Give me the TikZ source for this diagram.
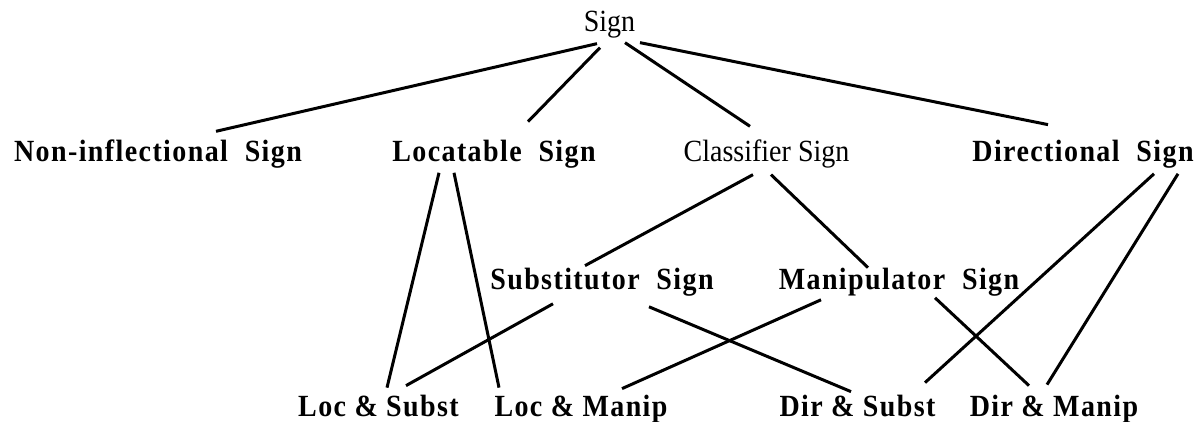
\documentclass[tikz,border=0pt]{standalone}
\usepackage{fontspec}
\usepackage{graphicx}
\setmainfont{Liberation Serif}
\newfontfamily\spacedbf[LetterSpace=5]{Liberation Serif}
\newcommand{\tall}[1]{\scalebox{1}[1.1]{#1}}
\usepackage{tikz}
\usetikzlibrary{positioning}

\begin{document}
\begin{tikzpicture}[x=1pt, y=1pt,
  cat/.style={inner sep=0pt, outer sep=0pt, anchor=base, font=\fontsize{28}{34}\selectfont},
  bcat/.style={cat, font=\fontsize{28}{34}\spacedbf\bfseries},
  edge/.style={line width=3pt}]
\useasboundingbox (0,0) rectangle (1199,421);
\node[cat] (sign) at (609.5,389) {\tall{Sign}};
\node[bcat] (non) at (158,259) {\tall{Non-inflectional~~Sign}};
\node[bcat] (loc) at (494,259) {\tall{Locatable~~Sign}};
\node[cat] (cls) at (766.5,259) {\tall{Classifier Sign}};
\node[bcat] (dir) at (1083,259) {\tall{Directional~~Sign}};
\node[bcat] (sub) at (602,132) {\tall{Substitutor~~Sign}};
\node[bcat] (man) at (899,132) {\tall{Manipulator~~Sign}};
\node[bcat] (ls) at (378.5,5) {\tall{Loc \& Subst}};
\node[bcat] (lm) at (581,5) {\tall{Loc \& Manip}};
\node[bcat] (ds) at (857.5,5) {\tall{Dir \& Subst}};
\node[bcat] (dm) at (1054,5) {\tall{Dir \& Manip}};
\draw[edge] ([xshift=-12.5pt,yshift=-5pt]sign.south) -- ([xshift=58pt,yshift=9pt]non.north);
\draw[edge] ([xshift=-9.5pt,yshift=-9pt]sign.south) -- ([xshift=34pt,yshift=19pt]loc.north);
\draw[edge] ([xshift=15.5pt,yshift=-4pt]sign.south) -- ([xshift=-16.5pt,yshift=14pt]cls.north);
\draw[edge] ([xshift=30.5pt,yshift=-4pt]sign.south) -- ([xshift=-35pt,yshift=16pt]dir.north);
\draw[edge] ([xshift=-13.5pt,yshift=-6pt]cls.south) -- ([xshift=-17pt,yshift=2pt]sub.north);
\draw[edge] ([xshift=4.5pt,yshift=-6pt]cls.south) -- ([xshift=-31pt,yshift=0pt]man.north);
\draw[edge] ([xshift=71pt,yshift=-5pt]dir.south) -- ([xshift=67.5pt,yshift=12pt]ds.north);
\draw[edge] ([xshift=95pt,yshift=-5pt]dir.south) -- ([xshift=-7pt,yshift=10pt]dm.north);
\draw[edge] ([xshift=-55pt,yshift=-4pt]loc.south) -- ([xshift=8.5pt,yshift=7pt]ls.north);
\draw[edge] ([xshift=-40pt,yshift=-4pt]loc.south) -- ([xshift=-82pt,yshift=7pt]lm.north);
\draw[edge] ([xshift=-49pt,yshift=-8pt]sub.south) -- ([xshift=27.5pt,yshift=9pt]ls.north);
\draw[edge] ([xshift=47pt,yshift=-11pt]sub.south) -- ([xshift=-6.5pt,yshift=3pt]ds.north);
\draw[edge] ([xshift=-78pt,yshift=-4pt]man.south) -- ([xshift=41pt,yshift=6pt]lm.north);
\draw[edge] ([xshift=36pt,yshift=-2pt]man.south) -- ([xshift=-25pt,yshift=9pt]dm.north);
\end{tikzpicture}
\end{document}
